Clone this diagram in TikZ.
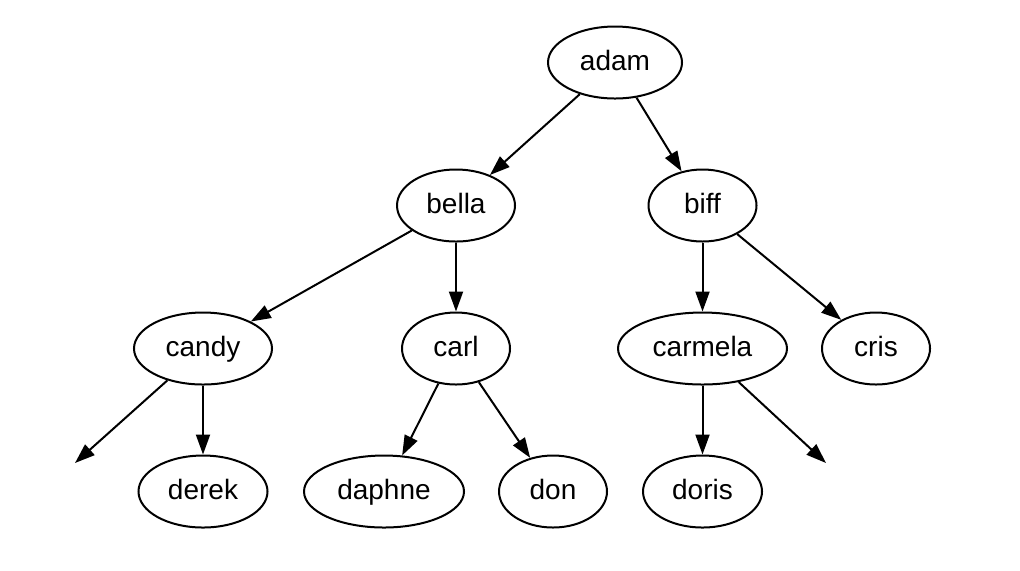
\documentclass[tikz,border=0pt]{standalone}
\usepackage{fontspec}
\setmainfont{Liberation Sans}
\usetikzlibrary{shapes.geometric,arrows.meta}
\begin{document}
\begin{tikzpicture}[x=0.5pt,y=-0.5pt,
  nd/.style={draw,ellipse,line width=1pt,inner sep=0pt,minimum height=36pt,text height=10.5pt,text depth=2.5pt,font=\fontsize{14}{17}\selectfont},
  ed/.style={draw,line width=1pt,-{Triangle[length=10pt,width=7pt]}}]
\useasboundingbox (0,0) rectangle (1020,570);
\node[nd,minimum width=67pt] (adam) at (615,62.5) {adam};
\node[nd,minimum width=59pt] (bella) at (456,205.5) {bella};
\node[nd,minimum width=54pt] (biff) at (702.5,205.5) {biff};
\node[nd,minimum width=69pt] (candy) at (203,348.5) {candy};
\node[nd,minimum width=54pt] (carl) at (456,348.5) {carl};
\node[nd,minimum width=84.5pt] (carmela) at (702.5,348.5) {carmela};
\node[nd,minimum width=54pt] (cris) at (876,348.5) {cris};
\node[nd,minimum width=64.5pt] (derek) at (203,491.5) {derek};
\node[nd,minimum width=80pt] (daphne) at (384,491.5) {daphne};
\node[nd,minimum width=54pt] (don) at (553,491.5) {don};
\node[nd,minimum width=59.5pt] (doris) at (702.5,491.5) {doris};
\coordinate (fc) at (75,463);
\coordinate (fm) at (826,463);
\draw[ed] (adam) -- (bella);
\draw[ed] (adam) -- (biff);
\draw[ed] (bella) -- (candy);
\draw[ed] (bella) -- (carl);
\draw[ed] (biff) -- (carmela);
\draw[ed] (biff) -- (cris);
\draw[ed] (candy) -- (fc);
\draw[ed] (candy) -- (derek);
\draw[ed] (carl) -- (daphne);
\draw[ed] (carl) -- (don);
\draw[ed] (carmela) -- (doris);
\draw[ed] (carmela) -- (fm);
\end{tikzpicture}
\end{document}
